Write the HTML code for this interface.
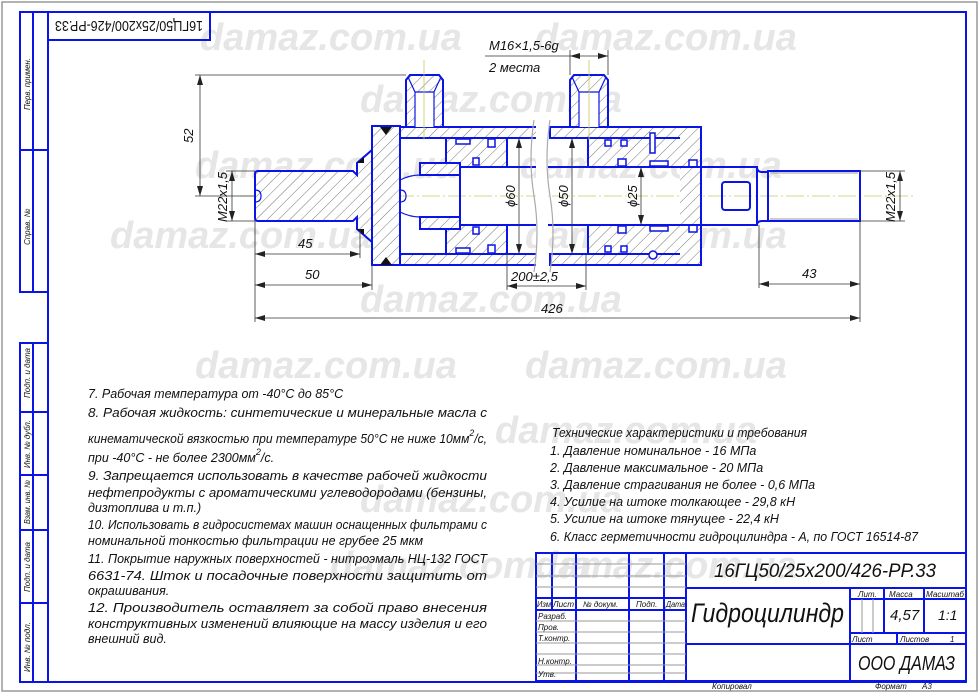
<!DOCTYPE html>
<html><head><meta charset="utf-8">
<style>
html,body{margin:0;padding:0;background:#fff;}
svg{display:block;}
text{font-family:"Liberation Sans","DejaVu Sans",sans-serif;font-style:italic;fill:#111;}
.wm{font-family:"Liberation Sans",sans-serif;font-weight:bold;font-style:italic;font-size:38px;fill:#e6e6e6;}
.b{stroke:#0a14e6;stroke-width:2;fill:none;}
.bt{stroke:#0a14e6;stroke-width:1.2;fill:none;}
.h{fill:url(#hatch);stroke:#0a14e6;stroke-width:2;}
</style></head>
<body>
<svg width="979" height="693" viewBox="0 0 979 693" xmlns="http://www.w3.org/2000/svg">
<defs>
<pattern id="hatch" patternUnits="userSpaceOnUse" width="8" height="8" patternTransform="rotate(45)">
<rect width="8" height="8" fill="#fff"/>
<line x1="0" y1="0" x2="0" y2="8" stroke="#666" stroke-width="0.9"/>
</pattern>
<marker id="a" markerWidth="10" markerHeight="6" refX="10" refY="3" orient="auto-start-reverse" markerUnits="userSpaceOnUse">
<path d="M0,0 L10,3 L0,6 z" fill="#222"/></marker>
</defs>
<rect x="0" y="0" width="979" height="693" fill="#fff"/>
<rect x="2" y="2" width="975" height="689" fill="none" stroke="#999" stroke-width="1.5"/>

<!-- watermarks -->
<text class="wm" x="200" y="50">damaz.com.ua</text>
<text class="wm" x="535" y="50">damaz.com.ua</text>
<text class="wm" x="360" y="112">damaz.com.ua</text>
<text class="wm" x="195" y="178">damaz.com.ua</text>
<text class="wm" x="520" y="178">damaz.com.ua</text>
<text class="wm" x="110" y="248">damaz.com.ua</text>
<text class="wm" x="525" y="248">damaz.com.ua</text>
<text class="wm" x="360" y="312">damaz.com.ua</text>
<text class="wm" x="195" y="378">damaz.com.ua</text>
<text class="wm" x="525" y="378">damaz.com.ua</text>
<text class="wm" x="495" y="443">damaz.com.ua</text>
<text class="wm" x="360" y="512">damaz.com.ua</text>
<text class="wm" x="330" y="578">damaz.com.ua</text>
<text class="wm" x="535" y="578">damaz.com.ua</text>

<!-- frame -->
<rect x="48" y="12" width="918" height="670" class="b"/>
<rect x="48" y="12" width="162" height="28" class="b"/>
<text x="129" y="31" font-size="15" text-anchor="middle" transform="rotate(180 129 26)" textLength="148" lengthAdjust="spacingAndGlyphs" style="font-style:normal">16ГЦ50/25x200/426-РР.33</text>
<!-- left strip -->
<rect x="20" y="12" width="28" height="280" class="b"/>
<line x1="33" y1="12" x2="33" y2="292" class="b"/>
<line x1="20" y1="150" x2="48" y2="150" class="b"/>
<rect x="20" y="343" width="28" height="339" class="b"/>
<line x1="33" y1="343" x2="33" y2="682" class="b"/>
<line x1="20" y1="412" x2="48" y2="412" class="b"/>
<line x1="20" y1="475" x2="48" y2="475" class="b"/>
<line x1="20" y1="530" x2="48" y2="530" class="b"/>
<line x1="20" y1="603" x2="48" y2="603" class="b"/>
<g font-size="8">
<text transform="translate(30 110) rotate(-90)" textLength="52" lengthAdjust="spacingAndGlyphs">Перв. примен.</text>
<text transform="translate(30 245) rotate(-90)">Справ. №</text>
<text transform="translate(30 398) rotate(-90)" textLength="50" lengthAdjust="spacingAndGlyphs">Подп. и дата</text>
<text transform="translate(30 468) rotate(-90)" textLength="48" lengthAdjust="spacingAndGlyphs">Инв. № дубл.</text>
<text transform="translate(30 524) rotate(-90)" textLength="44" lengthAdjust="spacingAndGlyphs">Взам. инв. №</text>
<text transform="translate(30 592) rotate(-90)" textLength="50" lengthAdjust="spacingAndGlyphs">Подп. и дата</text>
<text transform="translate(30 672) rotate(-90)" textLength="50" lengthAdjust="spacingAndGlyphs">Инв. № подл.</text>
</g>

<!-- centerline -->
<line x1="240" y1="196" x2="915" y2="196" stroke="#c8c860" stroke-width="0.8" stroke-dasharray="18,3,2,3"/>

<!-- left stub -->
<path class="h" d="M258,171 H353 L357,175 V163 L372,150 V242 L357,229 V217 L353,221 H258 Q255,221 255,218 V174 Q255,171 258,171 Z"/>
<path d="M255,190 q6,0 6,6 q0,6 -6,6" class="bt" fill="#fff"/>
<path d="M357,163 L364,157 L364,163Z M357,229 L364,235 L364,229Z" fill="#111"/>
<!-- cap -->
<path class="h" d="M372,126 H400 V265 H372 Z"/>
<path d="M380,127 L392,127 L386,135Z M380,265 L392,265 L386,257Z" fill="#111"/>
<!-- barrel -->
<path class="h" d="M400,127 H540 V138 H400 Z"/>
<path class="h" d="M550,127 H701 V138 H550 Z"/>
<path class="h" d="M400,254 H540 V265 H400 Z"/>
<path class="h" d="M550,254 H701 V265 H550 Z"/>
<!-- gland -->
<path class="h" d="M588,138 H701 V167 H588 Z"/>
<path class="h" d="M588,225 H701 V254 H588 Z"/>
<path class="h" d="M680,127 H701 V265 H680" />
<!-- piston -->
<path class="h" d="M446,138 H507 V167 H446 Z"/>
<path class="h" d="M446,225 H507 V254 H446 Z"/>
<!-- cushion -->
<path class="h" d="M420,163 H460 V175 H420 Z"/>
<path class="h" d="M420,217 H460 V229 H420 Z"/>
<path d="M400,180 Q410,175 420,175 H460 M400,212 Q410,217 420,217 H460" class="bt"/>
<path d="M400,190 q6,0 6,6 q0,6 -6,6" class="bt"/>
<!-- seals -->
<g fill="#fff" stroke="#0a14e6" stroke-width="1.5">
<rect x="456" y="139" width="14" height="5"/><rect x="456" y="248" width="14" height="5"/>
<rect x="488" y="139" width="7" height="8"/><rect x="488" y="245" width="7" height="8"/>
<rect x="473" y="158" width="6" height="7"/><rect x="473" y="227" width="6" height="7"/>
<rect x="605" y="140" width="6" height="6"/><rect x="621" y="140" width="6" height="6"/>
<rect x="605" y="246" width="6" height="6"/><rect x="621" y="246" width="6" height="6"/>
<rect x="618" y="159" width="8" height="7"/><rect x="618" y="226" width="8" height="7"/>
<rect x="650" y="161" width="18" height="5"/><rect x="650" y="226" width="18" height="5"/>
<rect x="689" y="160" width="8" height="7"/><rect x="689" y="225" width="8" height="7"/>
<rect x="650" y="133" width="5" height="20"/>
<circle cx="653" cy="255" r="4"/>
</g>
<!-- rod -->
<path d="M460,167 H757 V225 H460 Z" fill="#fff" class="b"/>
<path d="M757,167 Q757,172 762,172 H768 V221 H762 Q757,221 757,225" class="b" fill="#fff"/>
<rect x="768" y="171" width="92" height="50" fill="#fff" class="b"/>
<line x1="770" y1="173" x2="858" y2="173" stroke="#999" stroke-width="1"/>
<line x1="770" y1="219" x2="858" y2="219" stroke="#999" stroke-width="1"/>
<rect x="722" y="182" width="28" height="28" rx="3" class="b" fill="#fff"/>
<!-- break lines -->
<rect x="536" y="126" width="12" height="140" fill="#fff"/>
<path d="M534,120 Q528,160 534,196 Q540,232 534,272" stroke="#aaa" stroke-width="1.2" fill="none"/>
<path d="M550,120 Q544,160 550,196 Q556,232 550,272" stroke="#aaa" stroke-width="1.2" fill="none"/>
<!-- ports -->
<path class="h" d="M406,127 V80 L410,75 H439 L443,80 V127 Z"/>
<rect x="415" y="92" width="19" height="35" fill="#fff"/>
<path d="M415,92 V127 M434,92 V127 M415,92 L408,77 M434,92 L441,77 M415,92 H434" class="bt"/>
<path class="h" d="M570,127 V80 L574,75 H604 L608,80 V127 Z"/>
<rect x="579" y="92" width="20" height="35" fill="#fff"/>
<path d="M579,92 V127 M599,92 V127 M579,92 L572,77 M599,92 L606,77 M579,92 H599" class="bt"/>
<line x1="424" y1="60" x2="424" y2="140" stroke="#c8c860" stroke-width="0.8"/>
<line x1="589" y1="60" x2="589" y2="140" stroke="#c8c860" stroke-width="0.8"/>

<!-- dimensions -->
<g stroke="#333" stroke-width="0.8" fill="none">
<line x1="195" y1="75" x2="406" y2="75"/>
<line x1="200" y1="75" x2="200" y2="196" marker-start="url(#a)" marker-end="url(#a)"/>
<line x1="195" y1="196" x2="255" y2="196"/>
<line x1="226" y1="171" x2="255" y2="171"/><line x1="226" y1="221" x2="255" y2="221"/>
<line x1="232" y1="171" x2="232" y2="221" marker-start="url(#a)" marker-end="url(#a)"/>
<line x1="860" y1="171" x2="905" y2="171"/><line x1="860" y1="221" x2="905" y2="221"/>
<line x1="900" y1="171" x2="900" y2="221" marker-start="url(#a)" marker-end="url(#a)"/>
<line x1="255" y1="221" x2="255" y2="322"/>
<line x1="360" y1="229" x2="360" y2="258"/>
<line x1="372" y1="265" x2="372" y2="290"/>
<line x1="255" y1="254" x2="360" y2="254" marker-start="url(#a)" marker-end="url(#a)"/>
<line x1="255" y1="285" x2="372" y2="285" marker-start="url(#a)" marker-end="url(#a)"/>
<line x1="255" y1="318" x2="860" y2="318" marker-start="url(#a)" marker-end="url(#a)"/>
<line x1="860" y1="221" x2="860" y2="322"/>
<line x1="759" y1="225" x2="759" y2="288"/>
<line x1="759" y1="284" x2="860" y2="284" marker-start="url(#a)" marker-end="url(#a)"/>
<line x1="507" y1="254" x2="507" y2="290"/>
<line x1="586" y1="254" x2="586" y2="290"/>
<line x1="507" y1="286" x2="586" y2="286" marker-start="url(#a)" marker-end="url(#a)"/>
<line x1="519" y1="138" x2="519" y2="254" marker-start="url(#a)" marker-end="url(#a)"/>
<line x1="572" y1="138" x2="572" y2="254" marker-start="url(#a)" marker-end="url(#a)"/>
<line x1="641" y1="167" x2="641" y2="225" marker-start="url(#a)" marker-end="url(#a)"/>
<line x1="485" y1="56" x2="570" y2="56"/>
<line x1="570" y1="50" x2="570" y2="75"/><line x1="608" y1="50" x2="608" y2="75"/>
<line x1="570" y1="56" x2="608" y2="56" marker-start="url(#a)" marker-end="url(#a)"/>
</g>
<g font-size="13">
<text x="489" y="50">M16×1,5-6g</text>
<text x="489" y="72">2 места</text>
<text transform="translate(193 143) rotate(-90)">52</text>
<text transform="translate(227 222) rotate(-90)" textLength="50" lengthAdjust="spacingAndGlyphs">M22x1,5</text>
<text transform="translate(895 222) rotate(-90)" textLength="50" lengthAdjust="spacingAndGlyphs">M22x1,5</text>
<text x="298" y="248">45</text>
<text x="305" y="279">50</text>
<text x="511" y="281">200±2,5</text>
<text x="802" y="278">43</text>
<text x="541" y="313">426</text>
<text transform="translate(515 207) rotate(-90)">ϕ60</text>
<text transform="translate(568 207) rotate(-90)">ϕ50</text>
<text transform="translate(637 207) rotate(-90)">ϕ25</text>
</g>

<!-- notes -->
<g font-size="12.5">
<text x="88" y="398">7. Рабочая температура от -40°С до 85°С</text>
<text x="88" y="417" textLength="399" lengthAdjust="spacingAndGlyphs">8. Рабочая жидкость: синтетические и минеральные масла с</text>
<text x="88" y="443" textLength="399" lengthAdjust="spacingAndGlyphs">кинематической вязкостью при температуре 50°С не ниже 10мм<tspan dy="-7" font-size="9">2</tspan><tspan dy="7">/с,</tspan></text>
<text x="88" y="462">при -40°С  - не более  2300мм<tspan dy="-7" font-size="9">2</tspan><tspan dy="7">/с.</tspan></text>
<text x="88" y="480" textLength="399" lengthAdjust="spacingAndGlyphs">9. Запрещается использовать в качестве рабочей жидкости</text>
<text x="88" y="497" textLength="399" lengthAdjust="spacingAndGlyphs">нефтепродукты с ароматическими углеводородами (бензины,</text>
<text x="88" y="512">дизтоплива и т.п.)</text>
<text x="88" y="529" textLength="399" lengthAdjust="spacingAndGlyphs">10. Использовать в гидросистемах машин  оснащенных фильтрами с</text>
<text x="88" y="545">номинальной тонкостью фильтрации не грубее 25 мкм</text>
<text x="88" y="563" textLength="399" lengthAdjust="spacingAndGlyphs">11. Покрытие наружных поверхностей - нитроэмаль НЦ-132 ГОСТ</text>
<text x="88" y="580" textLength="399" lengthAdjust="spacingAndGlyphs">6631-74. Шток и посадочные поверхности защитить от</text>
<text x="88" y="595">окрашивания.</text>
<text x="88" y="612" textLength="399" lengthAdjust="spacingAndGlyphs">12. Производитель оставляет за собой право внесения</text>
<text x="88" y="628" textLength="399" lengthAdjust="spacingAndGlyphs">конструктивных изменений влияющие на массу изделия и его</text>
<text x="88" y="643">внешний вид.</text>
</g>
<g font-size="12.5">
<text x="552" y="437" textLength="255" lengthAdjust="spacingAndGlyphs">Технические характеристики и требования</text>
<text x="550" y="455">1. Давление номинальное - 16 МПа</text>
<text x="550" y="472">2. Давление максимальное - 20 МПа</text>
<text x="550" y="489">3. Давление страгивания не более - 0,6 МПа</text>
<text x="550" y="506">4.  Усилие на штоке толкающее - 29,8 кН</text>
<text x="550" y="523">5. Усилие на штоке тянущее - 22,4 кН</text>
<text x="550" y="541" textLength="368" lengthAdjust="spacingAndGlyphs">6. Класс герметичности гидроцилиндра - А, по ГОСТ 16514-87</text>
</g>

<!-- title block -->
<g class="b">
<rect x="536" y="553" width="430" height="128"/>
<line x1="686" y1="553" x2="686" y2="681"/>
<line x1="686" y1="588" x2="966" y2="588"/>
<line x1="686" y1="644" x2="966" y2="644"/>
<line x1="850" y1="588" x2="850" y2="681"/>
<line x1="850" y1="599" x2="966" y2="599"/>
<line x1="850" y1="633" x2="966" y2="633"/>
<line x1="884" y1="588" x2="884" y2="633"/>
<line x1="924" y1="588" x2="924" y2="633"/>
<line x1="897" y1="633" x2="897" y2="644"/>
<line x1="552" y1="553" x2="552" y2="610"/>
<line x1="576" y1="553" x2="576" y2="681"/>
<line x1="629" y1="553" x2="629" y2="681"/>
<line x1="664" y1="553" x2="664" y2="681"/>
<line x1="536" y1="598" x2="686" y2="598"/>
<line x1="536" y1="610" x2="686" y2="610"/>
</g>
<g stroke="#999" stroke-width="1">
<line x1="536" y1="564" x2="686" y2="564"/><line x1="536" y1="576" x2="686" y2="576"/><line x1="536" y1="587" x2="686" y2="587"/>
<line x1="536" y1="621" x2="686" y2="621"/><line x1="536" y1="632" x2="686" y2="632"/><line x1="536" y1="643" x2="686" y2="643"/>
<line x1="536" y1="654" x2="686" y2="654"/><line x1="536" y1="665" x2="686" y2="665"/><line x1="536" y1="673" x2="686" y2="673"/>
<line x1="862" y1="599" x2="862" y2="633"/><line x1="873" y1="599" x2="873" y2="633"/>
</g>
<g font-size="8">
<text x="537" y="607" textLength="14" lengthAdjust="spacingAndGlyphs">Изм</text><text x="553" y="607" textLength="21" lengthAdjust="spacingAndGlyphs">Лист</text><text x="583" y="607">№ докум.</text><text x="636" y="607">Подп.</text><text x="666" y="607" textLength="19" lengthAdjust="spacingAndGlyphs">Дата</text>
<text x="538" y="619">Разраб.</text><text x="538" y="630">Пров.</text><text x="538" y="641">Т.контр.</text>
<text x="538" y="664">Н.контр.</text><text x="538" y="677">Утв.</text>
<text x="858" y="597">Лит.</text><text x="889" y="597">Масса</text><text x="926" y="597" textLength="38" lengthAdjust="spacingAndGlyphs">Масштаб</text>
<text x="852" y="642">Лист</text><text x="900" y="642">Листов</text><text x="950" y="642">1</text>
<text x="712" y="689">Копировал</text><text x="875" y="689">Формат</text><text x="922" y="689">А3</text>
</g>
<text x="714" y="577" font-size="19" textLength="222" lengthAdjust="spacingAndGlyphs">16ГЦ50/25x200/426-РР.33</text>
<text x="691" y="622" font-size="27" textLength="153" lengthAdjust="spacingAndGlyphs">Гидроцилиндр</text>
<text x="890" y="620" font-size="15">4,57</text>
<text x="938" y="620" font-size="14">1:1</text>
<text x="858" y="670" font-size="20" textLength="97" lengthAdjust="spacingAndGlyphs">ООО ДАМАЗ</text>
</svg>
</body></html>
